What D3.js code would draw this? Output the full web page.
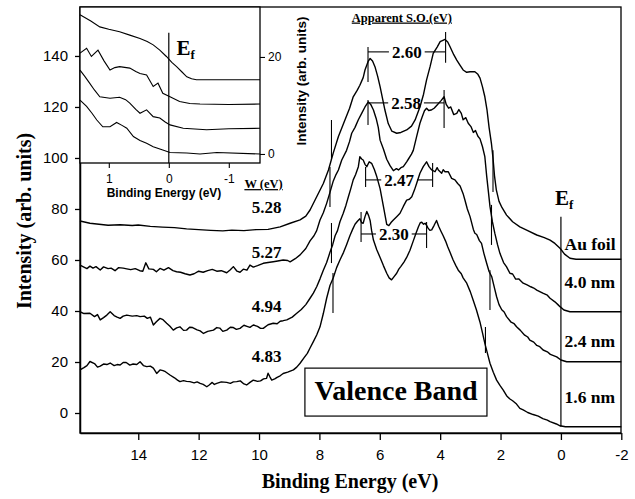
<!DOCTYPE html>
<html>
<head>
<meta charset="utf-8">
<script src="https://cdn.jsdelivr.net/npm/d3@7"></script>
<style>
  body { margin: 0; background: #fff; }
  .tick text { font-family: "Liberation Sans", Arial, sans-serif; }
</style>
</head>
<body>
<div id="chart"></div>
<script>
// ---- data (binding energy eV, intensity arb. units) ----
var spectraNames = ["Au foil", "4.0 nm", "2.4 nm", "1.6 nm"];
var workFunctions = ["5.28", "5.27", "4.94", "4.83"];

var auFoil = [[15.93,75.3],[15.6,74.4],[15.3,74.0],[15.0,73.6],[14.6,73.8],[14.2,73.5],[14.0,73.7],[13.6,73.2],[13.2,72.9],[12.8,72.7],[12.4,72.2],[12.0,71.9],[11.6,71.6],[11.2,71.4],[10.9,71.7],[10.5,71.5],[10.1,71.9],[9.7,72.0],[9.3,73.0],[8.97,74.4],[8.64,75.7],[8.45,77.2],[8.31,79.6],[8.09,84.8],[7.87,90],[7.7,95.3],[7.54,102],[7.37,108.4],[7.2,113.5],[7.0,119.5],[6.88,124],[6.75,126.5],[6.66,128.5],[6.55,131.5],[6.49,134.5],[6.38,138],[6.32,139],[6.24,138],[6.16,135.8],[6.07,132],[5.99,128],[5.83,118.8],[5.72,113.5],[5.6,110.5],[5.44,109.7],[5.3,110],[5.11,111],[4.95,112.5],[4.83,114.9],[4.67,120],[4.55,125],[4.45,130.6],[4.33,136],[4.23,141],[4.1,143.5],[4.0,145.6],[3.84,146.5],[3.75,145.5],[3.68,143.8],[3.55,140.5],[3.45,138.4],[3.35,136.5],[3.24,134.5],[3.12,133.6],[3.01,133.8],[2.85,133.8],[2.75,132.8],[2.68,131.3],[2.6,128],[2.52,124],[2.45,119],[2.38,112],[2.3,105.5],[2.25,100],[2.2,93],[2.14,87.5],[2.05,83],[1.95,80.5],[1.8,77.6],[1.6,75],[1.36,73],[1.1,71.5],[0.8,69.8],[0.55,68.8],[0.36,67.8],[0.2,66.5],[0.03,64.6],[-0.12,62.3],[-0.3,60.7],[-0.5,60.3],[-2.0,60.3]];

var film40 = [[15.93,58],[15.8,57.2],[15.7,56.6],[15.6,57.6],[15.5,56.8],[15.4,57.4],[15.26,56.1],[15.15,57.3],[15.0,56.6],[14.9,56.8],[14.77,55.8],[14.65,57],[14.5,56.8],[14.38,56.5],[14.25,56.2],[14.1,56.6],[13.95,55.8],[13.85,55.6],[13.75,58.9],[13.65,56.5],[13.5,56.3],[13.4,55.4],[13.28,56.7],[13.15,56.0],[13.0,57.0],[12.85,55.8],[12.73,55.4],[12.6,55.2],[12.45,54.6],[12.29,54.1],[12.15,54.6],[12.0,55.6],[11.85,55.2],[11.7,55.8],[11.55,56.3],[11.4,55.6],[11.25,55.8],[11.07,55.0],[10.95,56.2],[10.85,57.4],[10.73,55.6],[10.63,55.2],[10.52,56.4],[10.4,56.0],[10.3,58],[10.19,57.2],[10.05,57.8],[9.86,58.7],[9.7,59.0],[9.53,59.3],[9.38,59.6],[9.2,60],[9.05,59.8],[8.97,59.3],[8.8,60.5],[8.64,62],[8.45,64.5],[8.31,67.5],[8.18,69.5],[8.09,71.5],[7.98,75.7],[7.87,78.5],[7.76,82.2],[7.65,86.5],[7.54,91],[7.45,93.5],[7.37,95.3],[7.26,99.2],[7.1,103],[7.0,106.5],[6.93,109.7],[6.82,112],[6.71,115],[6.6,117.5],[6.49,120],[6.38,122],[6.3,121],[6.21,118.8],[6.12,115.5],[6.05,112],[5.99,107],[5.88,103.5],[5.77,99.5],[5.66,97],[5.55,95],[5.45,95.8],[5.38,95.3],[5.3,96.2],[5.22,96.6],[5.11,98.5],[5.05,99.6],[4.95,101.5],[4.89,103],[4.78,108.4],[4.67,113.6],[4.6,116],[4.52,118.5],[4.45,119.5],[4.38,118.6],[4.3,118.8],[4.2,119.5],[4.1,120.8],[3.97,122.5],[3.87,124],[3.8,121],[3.72,119.5],[3.65,120],[3.55,117],[3.45,117.5],[3.38,119],[3.3,117.5],[3.24,115],[3.15,115.8],[3.07,113.6],[2.98,112.3],[2.9,110],[2.83,110.8],[2.75,108.5],[2.68,107.5],[2.6,104.5],[2.52,100.5],[2.46,93],[2.4,86.5],[2.35,81],[2.27,75],[2.19,70.5],[2.1,66],[2.02,62.6],[1.9,59],[1.8,57.3],[1.69,54.8],[1.6,54.5],[1.5,52.5],[1.4,52.6],[1.25,50.9],[1.12,50.2],[1.0,49.5],[0.9,49.0],[0.8,48.2],[0.6,47],[0.45,46.2],[0.36,45],[0.2,43.6],[0.1,42.5],[0.03,41.7],[-0.1,40.4],[-0.3,39.7],[-2.0,39.7]];

var film24 = [[15.93,39.7],[15.8,39.0],[15.6,39.1],[15.45,37.8],[15.35,38.6],[15.26,36.5],[15.15,37.4],[15.04,38.4],[14.93,39.7],[14.8,38.2],[14.7,37.6],[14.6,37.1],[14.5,38.0],[14.38,38.4],[14.2,38.0],[14.05,38.2],[13.94,37.8],[13.8,38.0],[13.7,37.1],[13.6,37.6],[13.5,34.5],[13.4,35.8],[13.28,37.1],[13.18,36.6],[13.06,35.2],[12.95,34.0],[12.84,32.5],[12.73,33.4],[12.62,33.8],[12.5,32.4],[12.4,32.5],[12.3,33.6],[12.2,33.5],[12.05,32.6],[11.95,32.2],[11.84,31.2],[11.7,32.0],[11.51,32.5],[11.4,33.5],[11.3,33.3],[11.2,32.0],[11.07,32.5],[10.95,33.6],[10.85,33.5],[10.75,32.8],[10.63,33.2],[10.5,34.4],[10.4,34],[10.3,33.6],[10.19,34.5],[10.05,34.0],[9.95,33.2],[9.86,33.2],[9.7,34.6],[9.53,35.2],[9.4,35.0],[9.3,36],[9.2,36.2],[9.08,36.5],[8.9,37.6],[8.75,39.1],[8.6,40.6],[8.45,42.5],[8.31,45],[8.2,47],[8.09,49.5],[7.98,52.6],[7.87,56],[7.76,59],[7.65,63],[7.56,66],[7.48,69.5],[7.4,71.5],[7.32,75],[7.21,78.3],[7.12,81.5],[7.04,84.8],[6.96,88],[6.88,91.4],[6.8,93.5],[6.71,96.6],[6.66,100.5],[6.6,99.6],[6.55,99.2],[6.49,97.5],[6.43,96.6],[6.35,98.5],[6.27,97.9],[6.18,95.5],[6.1,92.7],[5.99,88],[5.88,81],[5.77,74],[5.7,73.5],[5.62,74.8],[5.55,75.7],[5.44,77],[5.33,78.3],[5.22,81],[5.11,83.5],[5.02,83.8],[4.94,84.8],[4.85,87.5],[4.78,90],[4.67,94],[4.56,96.6],[4.45,98.5],[4.37,96.6],[4.28,95.3],[4.17,94.6],[4.1,96.2],[4.06,95.3],[3.95,94],[3.9,95.4],[3.84,94.6],[3.73,94.6],[3.62,92],[3.51,91.4],[3.42,90],[3.34,89],[3.24,86],[3.18,83.5],[3.1,80],[3.01,77],[2.9,72],[2.85,70.5],[2.79,70],[2.7,67.6],[2.63,66.5],[2.55,62.5],[2.46,58.7],[2.38,55.5],[2.29,53.4],[2.2,49],[2.13,45.6],[2.05,42.5],[1.96,40.5],[1.88,39.6],[1.8,37.8],[1.65,35.6],[1.55,35],[1.47,33.8],[1.35,32.5],[1.2,30.5],[1.1,29.8],[1.03,28.6],[0.9,27.8],[0.8,26.5],[0.7,26.0],[0.59,24.7],[0.45,24.0],[0.35,23],[0.14,22],[0.0,20.8],[-0.19,20.1],[-2.0,20.1]];

var film16 = [[15.93,16.9],[15.8,17.8],[15.7,18.6],[15.6,20.2],[15.45,19.4],[15.35,18.0],[15.26,18.4],[15.15,19.2],[15.04,19.0],[14.93,19.6],[14.8,18.6],[14.7,19.0],[14.6,18.8],[14.5,19.8],[14.4,19.8],[14.28,18.8],[14.17,19.2],[14.05,19.0],[13.94,20.1],[13.83,18.6],[13.72,18.2],[13.6,18.4],[13.5,17.6],[13.39,15.5],[13.28,16.9],[13.18,16.6],[13.1,16.2],[12.95,14.9],[12.8,13.8],[12.7,12.9],[12.62,12.3],[12.5,12.7],[12.4,12.4],[12.29,12.3],[12.15,11.8],[12.05,12.2],[11.95,11.6],[11.85,11.2],[11.73,10.3],[11.65,11.0],[11.55,12],[11.48,11.2],[11.4,11.6],[11.25,12.2],[11.07,12],[10.95,11.6],[10.85,12.2],[10.74,12.3],[10.62,12.6],[10.5,11.4],[10.41,11],[10.3,12.0],[10.19,12.9],[10.05,12.4],[9.95,12.6],[9.85,13.4],[9.75,13.6],[9.7,15.6],[9.64,14.2],[9.58,12.9],[9.48,13.4],[9.4,14],[9.3,14.6],[9.2,15.5],[9.05,16.0],[8.86,16.9],[8.75,18.0],[8.64,19.5],[8.5,21.8],[8.4,23.4],[8.31,25.5],[8.2,28.0],[8.09,30.6],[7.98,33.8],[7.87,39],[7.76,45],[7.65,50],[7.54,53],[7.43,57],[7.32,60],[7.2,63],[7.1,66],[6.99,69.5],[6.9,72],[6.82,74],[6.74,75.2],[6.66,76.2],[6.6,74.6],[6.55,74.4],[6.49,77],[6.43,79],[6.37,77.4],[6.32,75.5],[6.27,71.5],[6.21,67.8],[6.1,64],[5.99,61],[5.88,57.8],[5.77,54.8],[5.69,53],[5.61,52.2],[5.52,53.6],[5.44,54.8],[5.37,56.4],[5.3,57.5],[5.2,59.2],[5.11,61],[5.0,63.8],[4.89,67.5],[4.8,70.5],[4.72,73],[4.66,74.6],[4.61,74.8],[4.55,74.0],[4.5,74.4],[4.45,73.6],[4.4,72.5],[4.34,71.6],[4.28,71.8],[4.2,73.6],[4.12,75.5],[4.05,73.2],[3.97,71.2],[3.9,69.5],[3.82,67.4],[3.75,65.2],[3.66,62.6],[3.57,60],[3.48,57.8],[3.4,56],[3.3,54.6],[3.24,53],[3.12,50.9],[3.0,47.5],[2.9,44],[2.8,40.5],[2.68,35.6],[2.6,31.5],[2.52,27.3],[2.43,23.2],[2.35,19.5],[2.24,16],[2.13,12.9],[2.02,10.8],[1.91,9],[1.8,6.8],[1.7,5.6],[1.6,4.8],[1.47,3.5],[1.36,1.8],[1.25,1.2],[1.1,0.2],[0.92,-0.6],[0.75,-1.2],[0.6,-2.2],[0.45,-2.8],[0.36,-3.4],[0.15,-4.3],[0.03,-5],[-0.15,-5.4],[-2.0,-5.4]];

// label heights (intensity units) for the sample names and work functions
var nameLevels = [63.8, 49, 26, 4];
var workLevels = [78.4, 60.8, 39.6, 20];

// cut-off markers on each spectrum: [energy, low, high]
var lowEdgeMarks = [[7.6, 99.2, 114.9], [7.65, 80.8, 96.5], [7.6, 58.8, 74.5], [7.55, 39.2, 54.9]];
var highEdgeMarks = [[2.25, 86.7, 103], [2.3, 65.9, 81.6], [2.35, 40.4, 56], [2.5, 23.5, 33.7]];

// apparent spin-orbit splittings
var soLabels = ["2.60", "2.58", "2.47", "2.30"];
var soLeftE = [6.39, 6.39, 6.47, 6.62];
var soRightE = [3.82, 3.87, 4.25, 4.45];
var soLevel = [141.6, 121.6, 91.4, 70.2];
var soLeftSpan = [[129.8, 143.5], [112.9, 122.7], [88.6, 96.5], [67.1, 78.8]];
var soRightSpan = [[137.3, 149.4], [111.8, 126.7], [88.6, 98], [64.7, 74.9]];

// inset: Fermi edge region
var inset1 = [[1.48,28.7],[1.3,27.4],[1.15,26.2],[1.0,25.7],[0.82,25.2],[0.65,24.5],[0.48,23.8],[0.36,23.2],[0.26,22.5],[0.15,21.4],[0.04,20.1],[-0.05,18.9],[-0.13,18],[-0.22,16.9],[-0.3,15.9],[-0.38,15.5],[-0.46,15.3],[-1.52,15.3]];
var inset2 = [[1.48,20.8],[1.37,21.8],[1.29,20.1],[1.18,21.4],[1.08,19.2],[0.98,17.3],[0.9,17.8],[0.82,18],[0.65,17.7],[0.55,17.0],[0.48,16.6],[0.37,16.3],[0.26,13.9],[0.18,14.6],[0.1,12.5],[-0.02,11.8],[-0.18,10.8],[-0.35,10.4],[-0.52,10.3],[-1.0,10.2],[-1.52,10.3]];
var inset3 = [[1.48,17.3],[1.4,16.0],[1.32,14.6],[1.24,13.2],[1.15,11.8],[0.98,11.5],[0.82,11.7],[0.72,11.2],[0.65,10.5],[0.55,9.2],[0.48,8.4],[0.37,9.1],[0.26,7.7],[0.15,7.4],[0.06,6.6],[-0.02,6],[-0.24,5.3],[-0.63,5],[-1.0,5.2],[-1.52,5.3]];
var inset4 = [[1.48,11.1],[1.37,9.8],[1.28,8.4],[1.2,7],[1.1,5.6],[0.98,5.6],[0.87,6.5],[0.78,5.9],[0.7,5.3],[0.59,3.6],[0.48,2.8],[0.37,2.2],[0.26,1.5],[0.1,0.8],[-0.02,0.3],[-0.3,0.2],[-0.52,0],[-0.8,0.3],[-1.52,0]];

var xTicks = [14, 12, 10, 8, 6, 4, 2, 0, -2];
var yTicks = [0, 20, 40, 60, 80, 100, 120, 140];
var insetXTicks = [1, 0, -1];
var insetYTicks = [0, 20];

// ---- layout ----
var margin = {top: 7, right: 14, bottom: 66, left: 80},
    width = 635 - margin.left - margin.right,
    height = 499 - margin.top - margin.bottom;

var serif = '"Liberation Serif", "Times New Roman", serif';
var sans = '"Liberation Sans", Arial, sans-serif';

var svg = d3.select("#chart")
  .append("svg")
    .attr("width", 635)
    .attr("height", 499)
  .append("g")
    .attr("transform", "translate(" + margin.left + "," + margin.top + ")");

var x = d3.scaleLinear().domain([15.93, -1.99]).range([0, width]);
var y = d3.scaleLinear().domain([-7.84, 159.2]).range([height, 0]);

var line = d3.line()
  .x(function(d) { return x(d[0]); })
  .y(function(d) { return y(d[1]); });

// axes
var xAxis = svg.append("g")
  .attr("transform", "translate(0," + height + ")")
  .call(d3.axisBottom(x).tickValues(xTicks).tickSize(7).tickSizeOuter(0).tickPadding(9)
    .tickFormat(function(d) { return String(d); }));
xAxis.selectAll("text").style("font-size", "15px").style("fill", "#000");

var yAxis = svg.append("g")
  .call(d3.axisLeft(y).tickValues(yTicks).tickSize(5).tickSizeOuter(0).tickPadding(7));
yAxis.selectAll("text").style("font-size", "15px").style("fill", "#000");

svg.selectAll(".domain").attr("stroke", "#000").attr("stroke-width", 1.5);
svg.selectAll(".tick line").attr("stroke", "#000").attr("stroke-width", 1.3);

// frame
svg.append("rect")
  .attr("width", width).attr("height", height)
  .attr("fill", "none").attr("stroke", "#000").attr("stroke-width", 1.3);

// spectra
var spectra = [auFoil, film40, film24, film16];
svg.selectAll(".spectrum")
  .data(spectra)
  .enter()
  .append("path")
    .attr("class", "spectrum")
    .attr("fill", "none")
    .attr("stroke", "#000")
    .attr("stroke-width", 1.4)
    .attr("stroke-linejoin", "round")
    .attr("d", line);

// Fermi level line
svg.append("line")
  .attr("x1", x(0)).attr("x2", x(0))
  .attr("y1", y(77)).attr("y2", y(-5.4))
  .attr("stroke", "#000").attr("stroke-width", 1.2);

svg.append("text")
  .attr("x", x(0.2)).attr("y", y(81.6))
  .style("font-family", serif).style("font-weight", "bold").style("font-size", "21px")
  .text("E")
  .append("tspan").attr("dy", 4).style("font-size", "13px").text("f");

// cut-off markers
var marks = lowEdgeMarks.concat(highEdgeMarks);
svg.selectAll(".mark")
  .data(marks)
  .enter()
  .append("line")
    .attr("class", "mark")
    .attr("x1", function(d) { return x(d[0]); })
    .attr("x2", function(d) { return x(d[0]); })
    .attr("y1", function(d) { return y(d[1]); })
    .attr("y2", function(d) { return y(d[2]); })
    .attr("stroke", "#000").attr("stroke-width", 1.1);

// sample names
svg.selectAll(".name")
  .data(spectraNames)
  .enter()
  .append("text")
    .attr("class", "name")
    .attr("x", x(-0.12))
    .attr("y", function(d, i) { return y(nameLevels[i]); })
    .style("font-family", serif).style("font-weight", "bold").style("font-size", "17.5px")
    .text(function(d) { return d; });

// work functions
svg.append("text")
  .attr("x", x(9.85)).attr("y", y(88.2))
  .attr("text-anchor", "middle")
  .style("font-family", serif).style("font-weight", "bold").style("font-size", "12.5px")
  .style("text-decoration", "underline")
  .text("W (eV)");

svg.selectAll(".wf")
  .data(workFunctions)
  .enter()
  .append("text")
    .attr("class", "wf")
    .attr("x", x(9.75))
    .attr("y", function(d, i) { return y(workLevels[i]); })
    .attr("text-anchor", "middle")
    .style("font-family", serif).style("font-weight", "bold").style("font-size", "17px")
    .text(function(d) { return d; });

// apparent S.O. brackets
svg.append("text")
  .attr("x", x(5.27)).attr("y", y(153.5))
  .attr("text-anchor", "middle")
  .style("font-family", serif).style("font-weight", "bold").style("font-size", "12.5px")
  .style("text-decoration", "underline")
  .text("Apparent S.O.(eV)");

soLabels.forEach(function(lab, i) {
  var g = svg.append("g");
  var xl = x(soLeftE[i]), xr = x(soRightE[i]), yl = y(soLevel[i]);
  var t = g.append("text")
    .attr("x", (xl + xr) / 2).attr("y", yl).attr("dy", "0.35em")
    .attr("text-anchor", "middle")
    .style("font-family", serif).style("font-weight", "bold").style("font-size", "17px")
    .text(lab);
  var w = t.node().getComputedTextLength();
  var pad = 3;
  g.append("line").attr("x1", xl).attr("x2", (xl + xr) / 2 - w / 2 - pad)
    .attr("y1", yl).attr("y2", yl).attr("stroke", "#000").attr("stroke-width", 1.1);
  g.append("line").attr("x1", (xl + xr) / 2 + w / 2 + pad).attr("x2", xr)
    .attr("y1", yl).attr("y2", yl).attr("stroke", "#000").attr("stroke-width", 1.1);
  g.append("line").attr("x1", xl).attr("x2", xl)
    .attr("y1", y(soLeftSpan[i][0])).attr("y2", y(soLeftSpan[i][1]))
    .attr("stroke", "#000").attr("stroke-width", 1.1);
  g.append("line").attr("x1", xr).attr("x2", xr)
    .attr("y1", y(soRightSpan[i][0])).attr("y2", y(soRightSpan[i][1]))
    .attr("stroke", "#000").attr("stroke-width", 1.1);
});

// Valence Band box
svg.append("rect")
  .attr("x", x(8.48)).attr("y", y(17.6))
  .attr("width", x(2.45) - x(8.48)).attr("height", y(-1.2) - y(17.6))
  .attr("fill", "#fff").attr("stroke", "#000").attr("stroke-width", 1.2);
svg.append("text")
  .attr("x", x(5.46)).attr("y", y(5.1))
  .attr("text-anchor", "middle")
  .style("font-family", serif).style("font-weight", "bold").style("font-size", "28px")
  .text("Valence Band");

// axis titles
svg.append("text")
  .attr("text-anchor", "middle")
  .attr("x", 350 - margin.left).attr("y", height + 55)
  .style("font-family", serif).style("font-weight", "bold").style("font-size", "20px")
  .text("Binding Energy (eV)");

svg.append("text")
  .attr("text-anchor", "middle")
  .attr("transform", "translate(" + (31 - margin.left) + "," + (221 - margin.top) + ") rotate(-90)")
  .style("font-family", serif).style("font-weight", "bold").style("font-size", "20px")
  .text("Intensity (arb. units)");

// ---- inset ----
var iw = 180, ih = 156;
var inset = svg.append("g");
var xi = d3.scaleLinear().domain([1.48, -1.52]).range([0, iw]);
var yi = d3.scaleLinear().domain([-1.86, 30.3]).range([ih, 0]);

inset.append("rect")
  .attr("width", iw).attr("height", ih)
  .attr("fill", "#fff").attr("stroke", "#000").attr("stroke-width", 1.3);

var ixAxis = inset.append("g")
  .attr("transform", "translate(0," + ih + ")")
  .call(d3.axisBottom(xi).tickValues(insetXTicks).tickSize(5).tickSizeOuter(0).tickPadding(6)
    .tickFormat(function(d) { return String(d); }));
var iyAxis = inset.append("g")
  .attr("transform", "translate(" + iw + ",0)")
  .call(d3.axisRight(yi).tickValues(insetYTicks).tickSize(5).tickSizeOuter(0).tickPadding(3));
[ixAxis, iyAxis].forEach(function(a) {
  a.select(".domain").remove();
  a.selectAll(".tick line").attr("stroke", "#000").attr("stroke-width", 1.1);
  a.selectAll("text").style("font-size", "12px").style("fill", "#000");
});

var iline = d3.line()
  .x(function(d) { return xi(d[0]); })
  .y(function(d) { return yi(d[1]); });

inset.selectAll(".ispec")
  .data([inset1, inset2, inset3, inset4])
  .enter()
  .append("path")
    .attr("class", "ispec")
    .attr("fill", "none").attr("stroke", "#000").attr("stroke-width", 1.1)
    .attr("d", iline);

inset.append("line")
  .attr("x1", xi(0)).attr("x2", xi(0))
  .attr("y1", yi(25)).attr("y2", ih)
  .attr("stroke", "#000").attr("stroke-width", 1.2);

inset.append("text")
  .attr("x", xi(-0.13)).attr("y", yi(20.4))
  .style("font-family", serif).style("font-weight", "bold").style("font-size", "21px")
  .text("E")
  .append("tspan").attr("dy", 4).style("font-size", "13px").text("f");

inset.append("text")
  .attr("text-anchor", "middle")
  .attr("x", xi(0.08)).attr("y", ih + 34)
  .style("font-family", sans).style("font-weight", "bold").style("font-size", "12px")
  .text("Binding Energy (eV)");

inset.append("text")
  .attr("text-anchor", "middle")
  .attr("transform", "translate(" + (306 - margin.left) + "," + (81 - margin.top) + ") rotate(-90)")
  .style("font-family", sans).style("font-weight", "bold").style("font-size", "13.5px")
  .text("Intensity (arb. units)");
</script>
</body>
</html>
